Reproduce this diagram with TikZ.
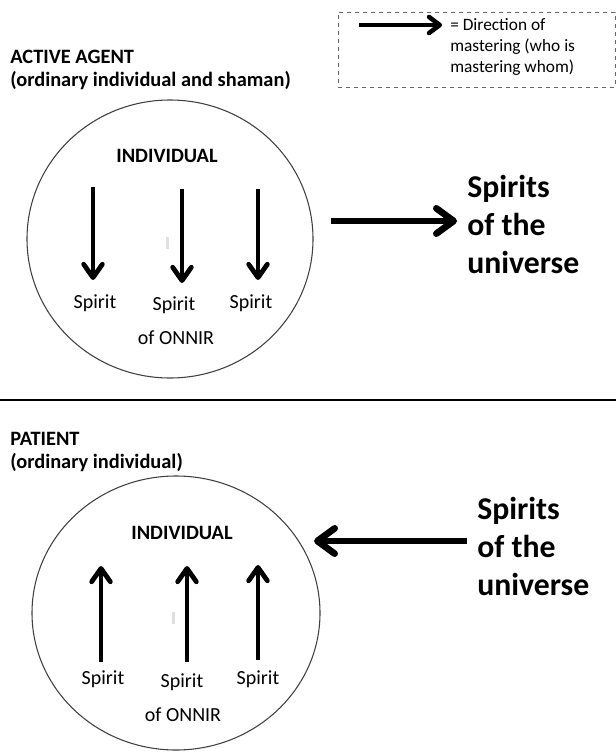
\documentclass[tikz,border=0pt]{standalone}
\usepackage{fontspec}
\setmainfont{Carlito}
\usetikzlibrary{arrows.meta,shapes.geometric}
\begin{document}
\begin{tikzpicture}[x=0.75pt,y=-0.75pt,
  txt/.style={inner sep=0pt,font=\fontsize{15}{17}\selectfont},
  head/.style={inner sep=0pt,align=left,font=\bfseries\fontsize{15.3}{17.3}\selectfont},
  big/.style={inner sep=0pt,align=left,font=\bfseries\fontsize{23.8}{28.5}\selectfont},
  ring/.style={draw=black!75,line width=0.8pt},
  sarrow/.style={line width=3.6pt,-{Straight Barb[length=10pt,width=14pt,round]}},
  barrow/.style={line width=5pt,-{Straight Barb[length=13pt,width=19pt,round]}},
  cursorbar/.style={fill=black!12,draw=none}
]
\useasboundingbox (0,0) rectangle (616,753);

% legend
\node[draw=black!60,dashed,line width=0.6pt,minimum width=207.75pt,minimum height=56.25pt,anchor=north west,inner sep=0pt] (legend) at (338,12) {};
\coordinate (la) at (359,25);
\coordinate (lb) at (442,25);
\draw[line width=3.4pt,-{Straight Barb[length=8pt,width=12pt,round]}] (la) -- (lb);
\node[inner sep=0pt,anchor=west,align=left,font=\fontsize{13}{16}\selectfont] (legtxt) at (450,47) {= Direction of\\mastering (who is\\mastering whom)};

% top section
\node[head,anchor=west] (h1) at (10,70) {ACTIVE AGENT\\(ordinary individual and shaman)};
\node[ring,ellipse,minimum width=214.5pt,minimum height=208.5pt,inner sep=0pt] (c1) at (170,239) {};
\node[txt,font=\bfseries\fontsize{15.3}{17}\selectfont] (ind1) at (167,156) {INDIVIDUAL};
\coordinate (a1s) at (93,187);   \coordinate (a1e) at (93,280);
\coordinate (a2s) at (182,189);  \coordinate (a2e) at (182,283);
\coordinate (a3s) at (258,189);  \coordinate (a3e) at (258,280);
\draw[sarrow] (a1s) -- (a1e);
\draw[sarrow] (a2s) -- (a2e);
\draw[sarrow] (a3s) -- (a3e);
\fill[cursorbar] (166,237) rectangle (168.5,249);
\node[txt] (s1) at (95,303) {Spirit};
\node[txt] (s2) at (174,305) {Spirit};
\node[txt] (s3) at (251,303) {Spirit};
\node[txt] (o1) at (176,338) {of ONNIR};
\coordinate (ba1) at (331,221);
\coordinate (ba2) at (457,221);
\draw[barrow] (ba1) -- (ba2);
\node[big,anchor=west] (u1) at (467,224) {Spirits\\of the\\universe};

% separator
\coordinate (sepL) at (0,400);
\coordinate (sepR) at (616,400);
\draw[line width=2pt] (sepL) -- (sepR);

% bottom section
\node[head,anchor=west] (h2) at (10,452) {PATIENT\\(ordinary individual)};
\node[ring,ellipse,minimum width=216pt,minimum height=205.5pt,inner sep=0pt] (c2) at (176,613) {};
\node[txt,font=\bfseries\fontsize{15.3}{17}\selectfont] (ind2) at (182,533) {INDIVIDUAL};
\coordinate (b1s) at (101,662);  \coordinate (b1e) at (101,566);
\coordinate (b2s) at (187,662);  \coordinate (b2e) at (187,566);
\coordinate (b3s) at (258,660);  \coordinate (b3e) at (258,565);
\draw[sarrow] (b1s) -- (b1e);
\draw[sarrow] (b2s) -- (b2e);
\draw[sarrow] (b3s) -- (b3e);
\fill[cursorbar] (172,612) rectangle (174.5,624);
\node[txt] (t1) at (103,679) {Spirit};
\node[txt] (t2) at (182,682) {Spirit};
\node[txt] (t3) at (258,679) {Spirit};
\node[txt] (o2) at (183,715) {of ONNIR};
\coordinate (bb1) at (467,541);
\coordinate (bb2) at (314,541);
\draw[barrow] (bb1) -- (bb2);
\node[big,anchor=west] (u2) at (477,546) {Spirits\\of the\\universe};
\end{tikzpicture}
\end{document}
